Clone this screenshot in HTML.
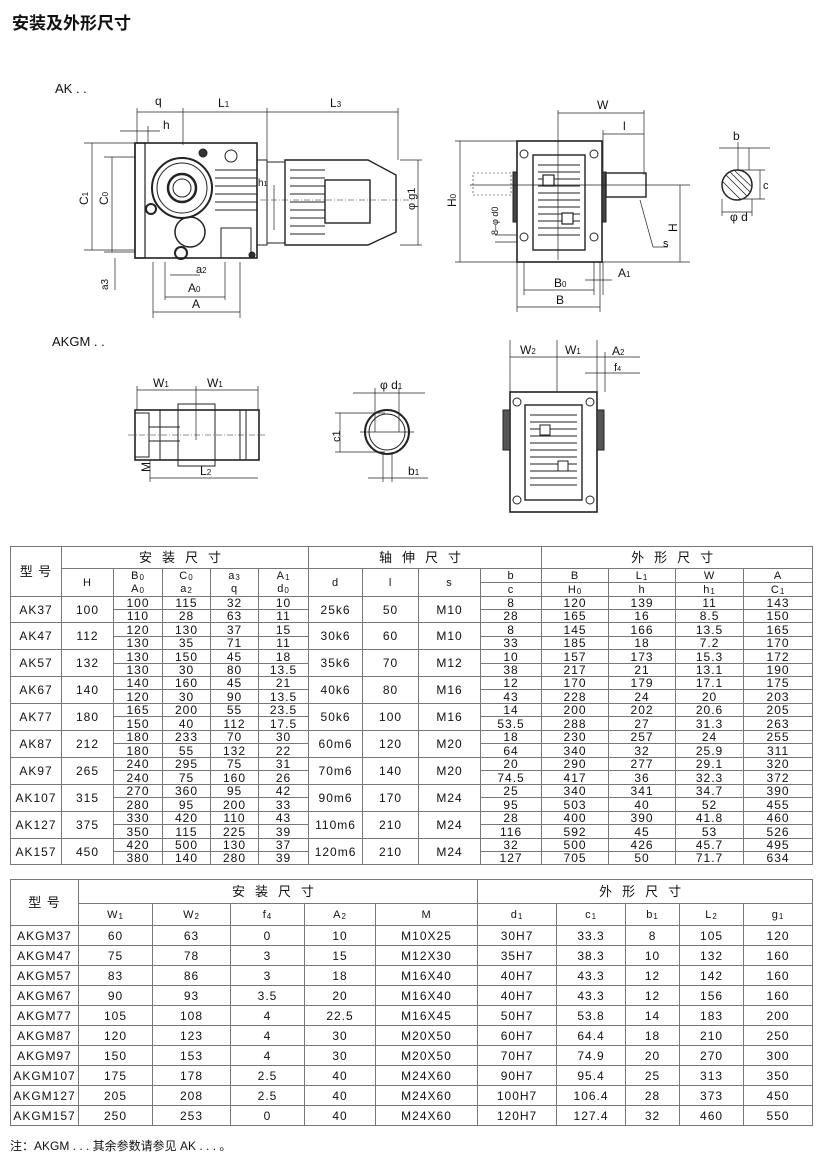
<!DOCTYPE html>
<html><head><meta charset="utf-8"><style>
body{margin:0;width:820px;height:1157px;background:#fff;position:relative;font-family:"Liberation Sans","Noto Sans CJK SC",sans-serif;color:#111;overflow:hidden}
.t{position:absolute;border-collapse:collapse;table-layout:fixed;font-size:12px;letter-spacing:1px}
.t td{border:1px solid #777;text-align:center;padding:0;line-height:12px;overflow:hidden;white-space:nowrap}
.t1 td.a{border-bottom:1px solid #777;height:12px}
.t1 td.b{height:12px}
.t1 .p{border-top:none;border-bottom:none}
.hd td{font-size:11px}
sub{font-size:8px;vertical-align:-1px;line-height:0}
.cj{letter-spacing:10px;font-size:13px}
svg text{font-family:"Liberation Sans",sans-serif;fill:#111}
</style></head><body>
<div style="position:absolute;left:12px;top:9px;font-size:17px;font-weight:bold;font-family:'Liberation Sans','Noto Sans CJK SC',sans-serif">安装及外形尺寸</div>

<svg width="820" height="540" style="position:absolute;left:0;top:0" stroke="#222" fill="none" stroke-width="1">
<text x="55" y="93" font-size="13" stroke="none">AK . .</text>
<!-- gearbox side view -->
<rect x="135" y="143" width="122" height="115" stroke-width="1.6"/>
<rect x="135" y="143" width="10" height="115" stroke-width="1.2"/>
<circle cx="182" cy="188" r="30" stroke-width="2"/><circle cx="182" cy="188" r="25"/><circle cx="182" cy="188" r="14" stroke-width="2.5"/><circle cx="182" cy="188" r="9"/>
<circle cx="190" cy="232" r="15" stroke-width="1.5"/><circle cx="181" cy="253" r="6" stroke-width="2"/>
<circle cx="203" cy="153" r="4" fill="#333"/><circle cx="231" cy="156" r="6"/><circle cx="151" cy="209" r="5" stroke-width="2"/><circle cx="252" cy="255" r="3" fill="#333"/>
<path d="M215 170H257M215 178H257M215 186H257M215 194H257M215 202H257M215 210H257"/>
<rect x="221" y="228" width="30" height="30"/>
<!-- motor -->
<rect x="257" y="160" width="10" height="85"/><rect x="267" y="162" width="18" height="81"/>
<path d="M285 160H368L396 175V232L368 245H285Z" stroke-width="1.4"/>
<path d="M290 170H325M290 178H325M290 186H325M290 194H325M290 202H325M290 210H325M290 218H325M290 226H325M290 234H325"/>
<rect x="325" y="180" width="45" height="43" stroke-width="1.4"/>
<path d="M260 200H415" stroke-dasharray="6 2 1 2" stroke-width="0.6"/>
<!-- dims -->
<g stroke-width="0.7">
<path d="M137 112H398M183 108V145M267 108V160M398 108V160M137 108V143M120 131H160M148 126V143"/>
<path d="M92 143V250M112 157V252M84 143H135M104 157H135M84 250H135M104 252H135M115 258V290"/>
<path d="M165 297H225M153 312H240M153 262V318M240 262V318M165 262V300M225 262V300M170 275H200"/>
<path d="M418 160V245M400 160H422M400 245H422M274 185V230"/>
</g>
<g stroke="none" font-size="12"><text x="155" y="105">q</text><text x="218" y="107">L<tspan font-size="8">1</tspan></text><text x="330" y="107">L<tspan font-size="8">3</tspan></text><text x="163" y="129">h</text>
<text x="88" y="205" transform="rotate(-90 88 205)">C<tspan font-size="8">1</tspan></text><text x="108" y="205" transform="rotate(-90 108 205)">C<tspan font-size="8">0</tspan></text><text x="108" y="290" transform="rotate(-90 108 290)" font-size="10">a3</text>
<text x="196" y="273" font-size="11">a<tspan font-size="8">2</tspan></text><text x="188" y="292">A<tspan font-size="8">0</tspan></text><text x="192" y="308">A</text>
<text x="415" y="210" transform="rotate(-90 415 210)" font-size="11">φ g1</text><text x="258" y="186" font-size="10">h<tspan font-size="7">1</tspan></text></g>

<!-- front view -->
<rect x="517" y="141" width="85" height="121" stroke-width="1.6"/>
<rect x="533" y="155" width="52" height="95" stroke-width="1.4"/>
<path d="M538 165H580M538 172H580M538 179H580M538 186H580M538 193H580M538 200H580M538 207H580M538 214H580M538 221H580M538 228H580M538 235H580"/>
<rect x="543" y="175" width="11" height="11" fill="#fff" stroke-width="1.2"/><rect x="562" y="213" width="11" height="11" fill="#fff" stroke-width="1.2"/>
<circle cx="524" cy="154" r="4"/><circle cx="594" cy="154" r="4"/><circle cx="524" cy="237" r="4"/><circle cx="594" cy="237" r="4"/>
<rect x="513" y="172" width="4" height="50" fill="#444"/><rect x="602" y="172" width="4" height="50" fill="#444"/>
<rect x="606" y="173" width="40" height="24" stroke-width="1.4"/>
<rect x="473" y="173" width="38" height="22" stroke-dasharray="2 2" stroke-width="0.6"/>
<g stroke-width="0.7">
<path d="M558 113H644M603 134H644M558 110V260M644 110V175M603 130V173"/>
<path d="M460 141V262M455 141H517M455 262H690M680 185V262M470 185H690"/>
<path d="M524 290H594M517 307H600M524 262V295M594 262V295M517 262V312M600 262V312M603 262V295M585 280H612"/>
<path d="M640 200L653 247H668M495 235H517M495 242H517"/>
<path d="M719 148H770M738 142V170M749 148V170M760 170V199M740 170H765M740 199H765M722 212H752M722 199V216M752 199V216"/>
</g>
<circle cx="737" cy="185" r="15" stroke-width="1.5"/>
<path d="M726 175L747 196M723 182L741 200M730 172L750 192M735 171L751 186" stroke-width="0.8"/>
<g stroke="none" font-size="12"><text x="597" y="109">W</text><text x="623" y="130">l</text><text x="456" y="207" transform="rotate(-90 456 207)">H<tspan font-size="8">0</tspan></text>
<text x="677" y="232" transform="rotate(-90 677 232)">H</text><text x="663" y="247" font-size="11">s</text><text x="498" y="235" transform="rotate(-90 498 235)" font-size="9">8–φ d0</text>
<text x="554" y="287">B<tspan font-size="8">0</tspan></text><text x="556" y="304">B</text><text x="618" y="277">A<tspan font-size="8">1</tspan></text>
<text x="733" y="140">b</text><text x="763" y="189" font-size="11">c</text><text x="730" y="221">φ d</text></g>

<!-- AKGM -->
<text x="52" y="346" font-size="13" stroke="none">AKGM . .</text>
<rect x="135" y="410" width="124" height="50" stroke-width="1.6"/>
<rect x="135" y="413" width="14" height="44"/><path d="M160 410V460M178 404H215V466H178ZM240 410V460M246 410V460M149 427H180M149 441H180"/>
<path d="M128 435H265" stroke-dasharray="6 2 1 2" stroke-width="0.6"/>
<g stroke-width="0.7"><path d="M137 390H258M137 386V410M258 386V410M196 386V440M150 478H258M150 460V482"/></g>
<circle cx="387" cy="432" r="22" stroke-width="2"/><circle cx="387" cy="432" r="18"/>
<g stroke-width="0.7"><path d="M353 393H425M375 388V432M399 388V432M340 413V452M335 413H385M335 452H385M368 478H428M383 452V482M392 452V482M360 432H414"/></g>
<rect x="510" y="392" width="87" height="120" stroke-width="1.6"/><rect x="525" y="405" width="57" height="95" stroke-width="1.4"/>
<path d="M530 415H577M530 422H577M530 429H577M530 436H577M530 443H577M530 450H577M530 457H577M530 464H577M530 471H577M530 478H577M530 485H577"/>
<rect x="540" y="425" width="10" height="10" fill="#fff"/><rect x="558" y="461" width="10" height="10" fill="#fff"/>
<rect x="503" y="410" width="7" height="40" fill="#555"/><rect x="597" y="410" width="7" height="40" fill="#555"/>
<circle cx="517" cy="402" r="4"/><circle cx="590" cy="402" r="4"/><circle cx="517" cy="500" r="4"/><circle cx="590" cy="500" r="4"/>
<g stroke-width="0.7"><path d="M510 357H597M510 340V392M557 340V392M597 340V392M585 357H640M585 373H640M605 352V392"/></g>
<g stroke="none" font-size="12"><text x="153" y="387">W<tspan font-size="8">1</tspan></text><text x="207" y="387">W<tspan font-size="8">1</tspan></text><text x="200" y="475">L<tspan font-size="8">2</tspan></text>
<text x="144" y="466" transform="rotate(-90 150 466)">M</text><text x="380" y="389">φ d<tspan font-size="8">1</tspan></text><text x="340" y="442" transform="rotate(-90 340 442)" font-size="11">c1</text><text x="408" y="475">b<tspan font-size="8">1</tspan></text>
<text x="520" y="354">W<tspan font-size="8">2</tspan></text><text x="565" y="354">W<tspan font-size="8">1</tspan></text><text x="612" y="355">A<tspan font-size="8">2</tspan></text><text x="614" y="371" font-size="11">f<tspan font-size="7">4</tspan></text></g>
</svg>

<table class="t t1" style="left:10px;top:546px;width:803px">
<colgroup><col style="width:51px"><col style="width:52px"><col style="width:49px"><col style="width:48px"><col style="width:48px"><col style="width:50px"><col style="width:54px"><col style="width:56px"><col style="width:62px"><col style="width:61px"><col style="width:67px"><col style="width:67px"><col style="width:68px"><col style="width:69px"></colgroup>
<tr style="height:22px"><td rowspan="3" style="font-size:13px">型 号</td><td colspan="5" class="cj">安装尺寸</td><td colspan="4" class="cj">轴伸尺寸</td><td colspan="4" class="cj">外形尺寸</td></tr>
<tr class="hd" style="height:14px"><td rowspan="2">H</td><td class="p">B<sub>0</sub></td><td class="p">C<sub>0</sub></td><td class="p">a<sub>3</sub></td><td class="p">A<sub>1</sub></td><td rowspan="2">d</td><td rowspan="2">l</td><td rowspan="2">s</td><td style="border-bottom:1px solid #777">b</td><td>B</td><td>L<sub>1</sub></td><td>W</td><td>A</td></tr>
<tr class="hd" style="height:14px"><td class="p">A<sub>0</sub></td><td class="p">a<sub>2</sub></td><td class="p">q</td><td class="p">d<sub>0</sub></td><td>c</td><td>H<sub>0</sub></td><td>h</td><td>h<sub>1</sub></td><td>C<sub>1</sub></td></tr>
<tr style="height:13px"><td rowspan="2">AK37</td><td rowspan="2">100</td><td>100</td><td>115</td><td>32</td><td>10</td><td rowspan="2">25k6</td><td rowspan="2">50</td><td rowspan="2">M10</td><td>8</td><td>120</td><td>139</td><td>11</td><td>143</td></tr>
<tr style="height:13px"><td>110</td><td>28</td><td>63</td><td>11</td><td>28</td><td>165</td><td>16</td><td>8.5</td><td>150</td></tr>
<tr style="height:14px"><td rowspan="2">AK47</td><td rowspan="2">112</td><td>120</td><td>130</td><td>37</td><td>15</td><td rowspan="2">30k6</td><td rowspan="2">60</td><td rowspan="2">M10</td><td>8</td><td>145</td><td>166</td><td>13.5</td><td>165</td></tr>
<tr style="height:13px"><td>130</td><td>35</td><td>71</td><td>11</td><td>33</td><td>185</td><td>18</td><td>7.2</td><td>170</td></tr>
<tr style="height:14px"><td rowspan="2">AK57</td><td rowspan="2">132</td><td>130</td><td>150</td><td>45</td><td>18</td><td rowspan="2">35k6</td><td rowspan="2">70</td><td rowspan="2">M12</td><td>10</td><td>157</td><td>173</td><td>15.3</td><td>172</td></tr>
<tr style="height:13px"><td>130</td><td>30</td><td>80</td><td>13.5</td><td>38</td><td>217</td><td>21</td><td>13.1</td><td>190</td></tr>
<tr style="height:13px"><td rowspan="2">AK67</td><td rowspan="2">140</td><td>140</td><td>160</td><td>45</td><td>21</td><td rowspan="2">40k6</td><td rowspan="2">80</td><td rowspan="2">M16</td><td>12</td><td>170</td><td>179</td><td>17.1</td><td>175</td></tr>
<tr style="height:14px"><td>120</td><td>30</td><td>90</td><td>13.5</td><td>43</td><td>228</td><td>24</td><td>20</td><td>203</td></tr>
<tr style="height:13px"><td rowspan="2">AK77</td><td rowspan="2">180</td><td>165</td><td>200</td><td>55</td><td>23.5</td><td rowspan="2">50k6</td><td rowspan="2">100</td><td rowspan="2">M16</td><td>14</td><td>200</td><td>202</td><td>20.6</td><td>205</td></tr>
<tr style="height:14px"><td>150</td><td>40</td><td>112</td><td>17.5</td><td>53.5</td><td>288</td><td>27</td><td>31.3</td><td>263</td></tr>
<tr style="height:13px"><td rowspan="2">AK87</td><td rowspan="2">212</td><td>180</td><td>233</td><td>70</td><td>30</td><td rowspan="2">60m6</td><td rowspan="2">120</td><td rowspan="2">M20</td><td>18</td><td>230</td><td>257</td><td>24</td><td>255</td></tr>
<tr style="height:14px"><td>180</td><td>55</td><td>132</td><td>22</td><td>64</td><td>340</td><td>32</td><td>25.9</td><td>311</td></tr>
<tr style="height:13px"><td rowspan="2">AK97</td><td rowspan="2">265</td><td>240</td><td>295</td><td>75</td><td>31</td><td rowspan="2">70m6</td><td rowspan="2">140</td><td rowspan="2">M20</td><td>20</td><td>290</td><td>277</td><td>29.1</td><td>320</td></tr>
<tr style="height:14px"><td>240</td><td>75</td><td>160</td><td>26</td><td>74.5</td><td>417</td><td>36</td><td>32.3</td><td>372</td></tr>
<tr style="height:13px"><td rowspan="2">AK107</td><td rowspan="2">315</td><td>270</td><td>360</td><td>95</td><td>42</td><td rowspan="2">90m6</td><td rowspan="2">170</td><td rowspan="2">M24</td><td>25</td><td>340</td><td>341</td><td>34.7</td><td>390</td></tr>
<tr style="height:14px"><td>280</td><td>95</td><td>200</td><td>33</td><td>95</td><td>503</td><td>40</td><td>52</td><td>455</td></tr>
<tr style="height:13px"><td rowspan="2">AK127</td><td rowspan="2">375</td><td>330</td><td>420</td><td>110</td><td>43</td><td rowspan="2">110m6</td><td rowspan="2">210</td><td rowspan="2">M24</td><td>28</td><td>400</td><td>390</td><td>41.8</td><td>460</td></tr>
<tr style="height:14px"><td>350</td><td>115</td><td>225</td><td>39</td><td>116</td><td>592</td><td>45</td><td>53</td><td>526</td></tr>
<tr style="height:13px"><td rowspan="2">AK157</td><td rowspan="2">450</td><td>420</td><td>500</td><td>130</td><td>37</td><td rowspan="2">120m6</td><td rowspan="2">210</td><td rowspan="2">M24</td><td>32</td><td>500</td><td>426</td><td>45.7</td><td>495</td></tr>
<tr style="height:13px"><td>380</td><td>140</td><td>280</td><td>39</td><td>127</td><td>705</td><td>50</td><td>71.7</td><td>634</td></tr>
</table>

<table class="t" style="left:10px;top:879px;width:803px">
<colgroup><col style="width:68px"><col style="width:74px"><col style="width:78px"><col style="width:74px"><col style="width:71px"><col style="width:102px"><col style="width:79px"><col style="width:69px"><col style="width:54px"><col style="width:64px"><col style="width:69px"></colgroup>
<tr style="height:24px"><td rowspan="2" style="font-size:13px">型 号</td><td colspan="5" class="cj">安装尺寸</td><td colspan="5" class="cj">外形尺寸</td></tr>
<tr class="hd" style="height:22px"><td>W<sub>1</sub></td><td>W<sub>2</sub></td><td>f<sub>4</sub></td><td>A<sub>2</sub></td><td>M</td><td>d<sub>1</sub></td><td>c<sub>1</sub></td><td>b<sub>1</sub></td><td>L<sub>2</sub></td><td>g<sub>1</sub></td></tr>
<tr style="height:20px"><td>AKGM37</td><td>60</td><td>63</td><td>0</td><td>10</td><td>M10X25</td><td>30H7</td><td>33.3</td><td>8</td><td>105</td><td>120</td></tr>
<tr style="height:20px"><td>AKGM47</td><td>75</td><td>78</td><td>3</td><td>15</td><td>M12X30</td><td>35H7</td><td>38.3</td><td>10</td><td>132</td><td>160</td></tr>
<tr style="height:20px"><td>AKGM57</td><td>83</td><td>86</td><td>3</td><td>18</td><td>M16X40</td><td>40H7</td><td>43.3</td><td>12</td><td>142</td><td>160</td></tr>
<tr style="height:20px"><td>AKGM67</td><td>90</td><td>93</td><td>3.5</td><td>20</td><td>M16X40</td><td>40H7</td><td>43.3</td><td>12</td><td>156</td><td>160</td></tr>
<tr style="height:20px"><td>AKGM77</td><td>105</td><td>108</td><td>4</td><td>22.5</td><td>M16X45</td><td>50H7</td><td>53.8</td><td>14</td><td>183</td><td>200</td></tr>
<tr style="height:20px"><td>AKGM87</td><td>120</td><td>123</td><td>4</td><td>30</td><td>M20X50</td><td>60H7</td><td>64.4</td><td>18</td><td>210</td><td>250</td></tr>
<tr style="height:20px"><td>AKGM97</td><td>150</td><td>153</td><td>4</td><td>30</td><td>M20X50</td><td>70H7</td><td>74.9</td><td>20</td><td>270</td><td>300</td></tr>
<tr style="height:20px"><td>AKGM107</td><td>175</td><td>178</td><td>2.5</td><td>40</td><td>M24X60</td><td>90H7</td><td>95.4</td><td>25</td><td>313</td><td>350</td></tr>
<tr style="height:20px"><td>AKGM127</td><td>205</td><td>208</td><td>2.5</td><td>40</td><td>M24X60</td><td>100H7</td><td>106.4</td><td>28</td><td>373</td><td>450</td></tr>
<tr style="height:20px"><td>AKGM157</td><td>250</td><td>253</td><td>0</td><td>40</td><td>M24X60</td><td>120H7</td><td>127.4</td><td>32</td><td>460</td><td>550</td></tr>
</table>
<div style="position:absolute;left:10px;top:1137px;font-size:12px">注：AKGM . . . 其余参数请参见 AK . . . 。</div>
</body></html>
